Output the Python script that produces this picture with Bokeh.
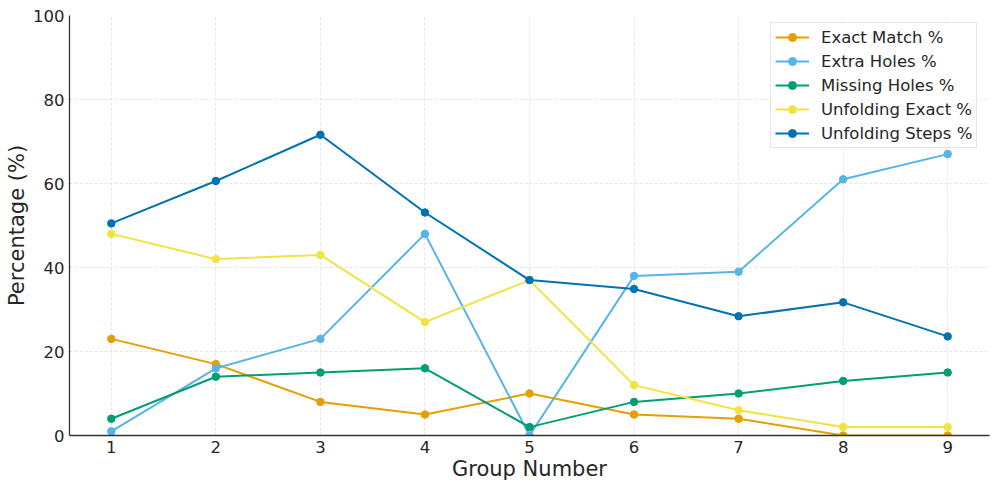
from bokeh.plotting import figure
from bokeh.models import Legend, LegendItem, Range1d, FixedTicker
from bokeh.embed import file_html
from bokeh.resources import INLINE

groups = [1, 2, 3, 4, 5, 6, 7, 8, 9]
exact_match = [23, 17, 8, 5, 10, 5, 4, 0, 0]
extra_holes = [1, 16, 23, 48, 0, 38, 39, 61, 67]
missing_holes = [4, 14, 15, 16, 2, 8, 10, 13, 15]
unfolding_exact = [48, 42, 43, 27, 37, 12, 6, 2, 2]
unfolding_steps = [50.5, 60.6, 71.6, 53.1, 37.0, 34.9, 28.4, 31.7, 23.6]

series_names = ["Exact Match %", "Extra Holes %", "Missing Holes %", "Unfolding Exact %", "Unfolding Steps %"]
series_values = [exact_match, extra_holes, missing_holes, unfolding_exact, unfolding_steps]
colors = ["#E69F00", "#56B4E9", "#009E73", "#F0E442", "#0072B2"]

FONT = "DejaVu Sans"
TXT = "#262626"

p = figure(width=997, height=489, output_backend="svg", toolbar_location=None,
           x_range=Range1d(0.6, 9.4), y_range=Range1d(0, 100),
           min_border_left=69, min_border_right=8, min_border_top=15, min_border_bottom=54)
p.outline_line_color = None
p.background_fill_color = "white"

items = []
for name, vals, c in zip(series_names, series_values, colors):
    r1 = p.line(groups, vals, line_color=c, line_width=2)
    r2 = p.scatter(groups, vals, size=7.5, fill_color=c, line_color=c)
    items.append(LegendItem(label=name, renderers=[r1, r2]))

for ax in (p.xaxis[0], p.yaxis[0]):
    ax.axis_line_color = "#333333"
    ax.axis_line_width = 1.3
    ax.major_tick_out = 0
    ax.major_tick_in = 0
    ax.minor_tick_out = 0
    ax.minor_tick_in = 0
    ax.major_label_text_font = FONT
    ax.major_label_text_font_size = "16.5px"
    ax.major_label_text_color = TXT
    ax.axis_label_text_font = FONT
    ax.axis_label_text_font_size = "21px"
    ax.axis_label_text_font_style = "normal"
    ax.axis_label_text_color = TXT
    ax.major_label_standoff = 5

p.xaxis[0].ticker = FixedTicker(ticks=groups)
p.yaxis[0].ticker = FixedTicker(ticks=[0, 20, 40, 60, 80, 100])
p.xaxis[0].axis_label = "Group Number"
p.yaxis[0].axis_label = "Percentage (%)"
p.xaxis[0].axis_label_standoff = 1
p.yaxis[0].axis_label_standoff = 1

for g in (p.xgrid[0], p.ygrid[0]):
    g.grid_line_color = "#e0e0e0"
    g.grid_line_dash = "3 2"
    g.grid_line_width = 0.8

legend = Legend(items=items, location=(701, 287))
legend.label_text_font = FONT
legend.label_text_font_size = "16.5px"
legend.label_text_color = TXT
legend.glyph_width = 34
legend.glyph_height = 20
legend.label_standoff = 12
legend.spacing = 4
legend.padding = 4
legend.margin = 0
legend.border_line_color = "#cccccc"
legend.border_line_width = 1
legend.background_fill_alpha = 0.85
p.add_layout(legend)

open("out.html", "w").write(file_html(p, INLINE))
